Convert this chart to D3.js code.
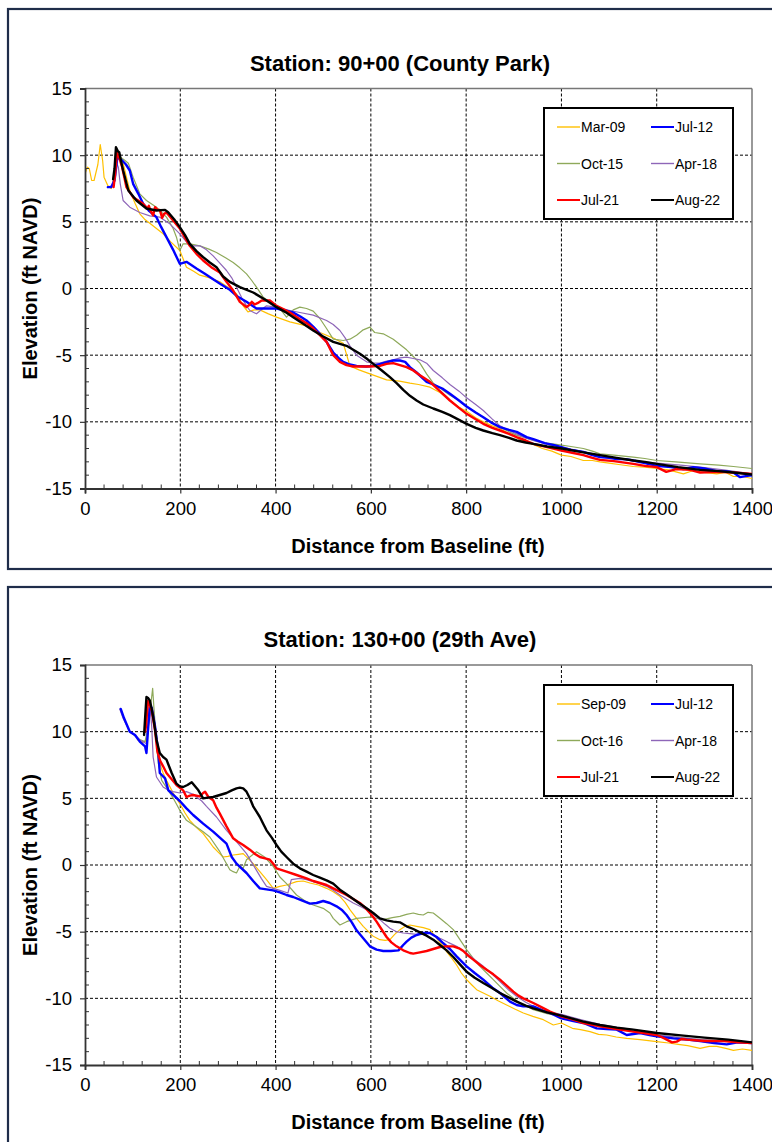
<!DOCTYPE html>
<html>
<head>
<meta charset="utf-8">
<script src="https://cdn.jsdelivr.net/npm/d3@7"></script>
<style>
  html, body { margin: 0; padding: 0; background: #fff; }
  svg text { font-family: "Liberation Sans", Arial, sans-serif; }
</style>
</head>
<body>
<svg id="chart" width="772" height="1142"></svg>
<script>
// ---------- axis ticks ----------
const xTicks = [0, 200, 400, 600, 800, 1000, 1200, 1400];
const yTicks = [-15, -10, -5, 0, 5, 10, 15];

// ---------- Station 90+00 (County Park) ----------
const cpTitle = "Station: 90+00 (County Park)";
const cpLabels = ["Mar-09", "Jul-12", "Oct-15", "Apr-18", "Jul-21", "Aug-22"];
const cpMar09 = [[0,8.6],[5,9.1],[9,9.0],[14,8.1],[19,8.1],[27,9.3],[32,10.8],[37,9.6],[40,8.35],[48,7.7],[55,7.5],[59,8.0],[64,9.4],[68,9.9],[74,9.9],[80,9.4],[88,8.2],[94,7.35],[105,6.4],[115,5.6],[125,5.2],[136,4.9],[150,4.5],[164,4.1],[180,3.5],[199,2.85],[213,1.6],[228,1.3],[241,1.0],[262,0.8],[283,0.5],[300,0.1],[318,-0.4],[332,-1.3],[342,-1.75],[355,-1.6],[367,-1.6],[385,-1.9],[402,-2.15],[430,-2.5],[465,-2.8],[493,-3.3],[520,-3.7],[542,-4.1],[556,-5.8],[575,-6.1],[598,-6.4],[633,-6.85],[660,-6.95],[682,-7.1],[700,-7.2],[724,-7.4],[745,-7.8],[766,-8.4],[785,-8.9],[801,-9.2],[820,-9.7],[836,-10.0],[855,-10.3],[871,-10.5],[890,-10.9],[906,-11.2],[925,-11.5],[941,-11.7],[960,-12.0],[980,-12.2],[1000,-12.5],[1020,-12.6],[1046,-12.9],[1065,-12.9],[1081,-13.0],[1100,-13.1],[1120,-13.2],[1151,-13.35],[1175,-13.4],[1200,-13.5],[1225,-13.6],[1256,-13.9],[1277,-13.65],[1300,-13.8],[1326,-13.9],[1345,-13.8],[1361,-14.1],[1380,-14.1],[1400,-14.25]];
const cpJul12 = [[48,7.6],[55,7.6],[62,8.1],[68,9.85],[78,9.6],[86,9.3],[94,8.85],[101,7.85],[112,7.1],[122,6.35],[135,5.8],[150,5.35],[160,4.6],[171,3.85],[185,2.9],[199,1.85],[213,2.0],[234,1.5],[250,1.15],[269,0.7],[286,0.3],[304,-0.1],[320,-0.6],[339,-1.0],[360,-1.5],[380,-1.5],[402,-1.5],[420,-1.65],[437,-1.8],[452,-2.1],[465,-2.4],[480,-2.9],[493,-3.4],[507,-4.0],[521,-4.8],[532,-5.2],[542,-5.5],[556,-5.7],[570,-5.8],[590,-5.85],[605,-5.8],[626,-5.6],[647,-5.4],[661,-5.4],[672,-5.5],[682,-5.9],[696,-6.3],[717,-7.0],[731,-7.2],[750,-7.5],[766,-7.9],[785,-8.4],[801,-8.85],[820,-9.3],[836,-9.65],[855,-10.1],[871,-10.4],[890,-10.6],[906,-10.75],[927,-11.15],[941,-11.3],[965,-11.6],[985,-11.75],[1000,-11.9],[1020,-12.1],[1046,-12.25],[1065,-12.5],[1081,-12.65],[1100,-12.7],[1116,-12.8],[1135,-12.8],[1151,-12.9],[1175,-13.1],[1200,-13.3],[1230,-13.4],[1256,-13.55],[1277,-13.4],[1300,-13.5],[1326,-13.7],[1345,-13.7],[1361,-13.8],[1375,-14.15],[1390,-14.05],[1400,-14.0]];
const cpOct15 = [[64,9.6],[68,10.0],[76,9.8],[84,9.6],[91,9.4],[101,8.35],[115,7.1],[129,6.6],[150,6.1],[171,5.35],[185,4.5],[192,3.85],[199,2.85],[206,3.35],[220,3.35],[241,3.2],[260,2.95],[276,2.7],[295,2.3],[311,1.95],[325,1.55],[339,1.1],[350,0.6],[360,0.1],[374,-0.65],[388,-1.0],[402,-1.3],[413,-1.7],[423,-2.15],[437,-1.6],[451,-1.4],[465,-1.5],[479,-1.7],[493,-2.25],[507,-3.0],[521,-3.8],[542,-3.9],[556,-3.8],[570,-3.5],[584,-3.1],[598,-2.9],[608,-3.3],[626,-3.4],[647,-3.8],[661,-4.2],[675,-4.6],[689,-5.1],[703,-5.6],[717,-6.4],[731,-7.1],[750,-7.6],[766,-8.0],[785,-8.4],[801,-8.85],[820,-9.3],[836,-9.65],[855,-10.05],[871,-10.4],[890,-10.75],[906,-11.0],[925,-11.2],[941,-11.4],[970,-11.6],[1000,-11.75],[1020,-11.85],[1046,-12.0],[1065,-12.2],[1081,-12.4],[1110,-12.5],[1151,-12.65],[1175,-12.75],[1200,-12.9],[1240,-13.0],[1291,-13.15],[1330,-13.25],[1361,-13.35],[1400,-13.5]];
const cpApr18 = [[48,7.6],[56,7.7],[62,8.5],[64,9.6],[70,9.1],[74,7.85],[80,6.6],[94,6.1],[115,5.7],[136,5.45],[157,5.35],[178,4.85],[199,4.1],[220,3.2],[241,3.2],[255,2.9],[269,2.45],[283,1.9],[297,1.35],[308,0.8],[318,0.1],[329,-0.7],[339,-1.3],[346,-1.65],[360,-1.9],[370,-1.6],[381,-1.3],[402,-1.4],[430,-1.65],[451,-1.8],[479,-2.0],[507,-2.4],[521,-2.7],[535,-3.15],[546,-3.7],[556,-4.3],[570,-5.0],[591,-5.5],[605,-5.6],[619,-5.6],[633,-5.45],[647,-5.35],[661,-5.2],[675,-5.15],[689,-5.25],[703,-5.35],[717,-5.6],[731,-6.15],[750,-6.7],[766,-7.2],[785,-7.7],[801,-8.2],[820,-8.7],[836,-9.15],[855,-9.8],[871,-10.3],[890,-10.65],[906,-10.9],[925,-11.2],[941,-11.4],[970,-11.7],[1000,-11.9],[1040,-12.2],[1081,-12.5],[1120,-12.8],[1160,-12.95],[1200,-13.1],[1250,-13.25],[1291,-13.4],[1340,-13.6],[1400,-13.9]];
const cpJul21 = [[60,7.6],[63,8.5],[67,10.2],[72,9.8],[78,9.1],[87,7.6],[101,6.85],[122,6.35],[131,6.0],[134,6.2],[138,5.8],[143,5.5],[147,6.1],[152,5.9],[157,5.9],[162,5.3],[166,5.6],[171,5.7],[178,5.4],[185,5.1],[199,4.5],[210,3.8],[220,3.2],[234,2.6],[248,2.1],[265,1.6],[283,1.2],[297,0.5],[311,-0.15],[325,-1.0],[339,-1.4],[346,-1.2],[350,-1.0],[356,-1.2],[362,-1.1],[371,-0.9],[388,-0.9],[402,-1.3],[416,-1.55],[430,-1.8],[451,-2.3],[465,-2.6],[479,-3.0],[493,-3.5],[507,-4.0],[514,-4.5],[521,-5.0],[535,-5.5],[549,-5.75],[563,-5.85],[580,-5.85],[598,-5.85],[619,-5.8],[633,-5.65],[647,-5.6],[661,-5.75],[675,-5.9],[689,-6.15],[703,-6.5],[724,-7.0],[745,-7.7],[766,-8.4],[785,-8.95],[801,-9.4],[820,-9.8],[836,-10.15],[855,-10.45],[871,-10.65],[890,-10.9],[906,-11.15],[925,-11.4],[941,-11.65],[970,-11.9],[1000,-12.15],[1020,-12.3],[1046,-12.5],[1065,-12.7],[1081,-12.85],[1110,-12.95],[1151,-13.15],[1175,-13.3],[1200,-13.4],[1220,-13.75],[1241,-13.55],[1270,-13.6],[1291,-13.8],[1330,-13.75],[1361,-13.8],[1400,-13.9]];
const cpAug22 = [[59,8.2],[62,9.0],[65,10.6],[69,10.3],[72,10.2],[76,9.5],[80,8.85],[91,7.35],[108,6.6],[129,6.0],[150,5.85],[168,5.9],[175,5.7],[187,5.2],[199,4.6],[210,4.0],[220,3.35],[234,2.8],[248,2.35],[262,1.95],[276,1.6],[290,0.9],[304,0.5],[325,0.1],[353,-0.3],[381,-0.9],[402,-1.4],[420,-1.75],[437,-2.15],[458,-2.65],[479,-3.15],[500,-3.6],[521,-4.0],[535,-4.15],[549,-4.3],[563,-4.6],[577,-4.9],[591,-5.25],[605,-5.65],[623,-6.15],[640,-6.65],[654,-7.1],[668,-7.6],[682,-8.05],[696,-8.4],[710,-8.7],[731,-9.0],[750,-9.25],[766,-9.5],[785,-9.85],[801,-10.15],[820,-10.45],[836,-10.65],[855,-10.85],[871,-11.0],[890,-11.2],[906,-11.4],[925,-11.55],[941,-11.65],[970,-11.85],[1001,-12.0],[1040,-12.25],[1081,-12.5],[1116,-12.7],[1151,-12.9],[1175,-13.0],[1200,-13.15],[1245,-13.4],[1291,-13.6],[1330,-13.7],[1361,-13.8],[1400,-13.95]];

// ---------- Station 130+00 (29th Ave) ----------
const taTitle = "Station: 130+00 (29th Ave)";
const taLabels = ["Sep-09", "Jul-12", "Oct-16", "Apr-18", "Jul-21", "Aug-22"];
const taSep09 = [[110,9.4],[120,9.2],[128,9.3],[134,10.8],[138,11.9],[144,11.0],[152,9.0],[157,7.6],[164,6.9],[171,6.35],[185,5.4],[199,4.6],[210,3.9],[220,3.35],[234,2.8],[248,2.35],[262,1.7],[269,1.35],[280,0.95],[290,0.6],[300,0.65],[311,0.75],[322,0.8],[332,0.85],[342,0.5],[353,0.1],[367,-0.5],[381,-1.1],[395,-1.75],[409,-1.6],[423,-1.5],[444,-1.25],[458,-1.2],[472,-1.35],[490,-1.5],[507,-1.75],[521,-2.0],[535,-2.35],[546,-2.8],[556,-3.35],[570,-4.0],[584,-4.6],[595,-5.0],[605,-5.35],[619,-5.6],[630,-5.65],[640,-5.6],[650,-5.2],[661,-4.85],[672,-4.6],[682,-4.5],[696,-4.6],[710,-4.7],[724,-4.85],[738,-5.5],[750,-6.0],[759,-6.5],[770,-7.0],[780,-7.5],[790,-8.1],[801,-8.6],[812,-9.0],[822,-9.35],[836,-9.6],[850,-9.85],[868,-10.2],[885,-10.5],[902,-10.8],[920,-11.1],[940,-11.35],[962,-11.6],[983,-12.0],[1000,-11.85],[1023,-12.25],[1040,-12.35],[1060,-12.5],[1078,-12.7],[1095,-12.75],[1115,-12.9],[1137,-13.0],[1165,-13.1],[1200,-13.25],[1225,-13.35],[1245,-13.45],[1265,-13.55],[1291,-13.75],[1310,-13.6],[1326,-13.6],[1345,-13.75],[1361,-13.9],[1380,-13.8],[1400,-13.9]];
const taJul12 = [[75,11.7],[82,11.0],[94,10.0],[105,9.75],[115,9.25],[126,8.9],[129,8.4],[132,10.0],[136,11.9],[140,11.8],[147,10.4],[154,8.4],[157,6.9],[168,6.5],[175,5.6],[187,5.2],[199,4.8],[213,4.25],[227,3.75],[248,3.1],[269,2.5],[283,2.05],[297,1.6],[308,0.6],[318,0.1],[339,-0.6],[353,-1.2],[367,-1.75],[395,-1.9],[409,-2.05],[423,-2.25],[437,-2.4],[451,-2.6],[472,-2.9],[486,-2.85],[500,-2.7],[514,-2.85],[528,-3.1],[540,-3.4],[549,-3.75],[560,-4.3],[570,-4.9],[584,-5.5],[598,-6.1],[612,-6.35],[626,-6.45],[642,-6.45],[658,-6.4],[668,-6.0],[675,-5.75],[685,-5.45],[696,-5.25],[710,-5.1],[724,-5.1],[738,-5.4],[750,-5.8],[766,-6.3],[780,-6.85],[801,-7.6],[818,-8.1],[836,-8.6],[855,-9.2],[871,-9.6],[892,-10.25],[906,-10.5],[920,-10.6],[941,-10.6],[960,-10.9],[976,-11.1],[1000,-11.5],[1025,-11.7],[1046,-11.85],[1074,-12.25],[1095,-12.3],[1116,-12.35],[1137,-12.75],[1165,-12.6],[1185,-12.75],[1200,-12.85],[1235,-13.0],[1265,-13.1],[1291,-13.2],[1320,-13.35],[1347,-13.45],[1370,-13.3],[1400,-13.35]];
const taOct16 = [[94,10.0],[105,9.7],[115,9.4],[126,9.25],[133,10.4],[138,12.0],[142,13.25],[145,11.6],[150,9.1],[154,7.6],[161,6.35],[175,5.6],[187,4.9],[199,4.1],[213,3.35],[234,2.85],[248,2.5],[262,2.1],[283,1.0],[297,0.1],[304,-0.35],[311,-0.5],[318,-0.6],[325,-0.1],[332,-0.25],[339,0.4],[346,0.6],[360,1.0],[377,0.6],[395,-0.1],[409,-0.9],[423,-1.4],[444,-2.25],[462,-2.7],[479,-3.0],[500,-3.25],[514,-3.6],[521,-4.0],[535,-4.5],[549,-4.25],[570,-4.0],[598,-3.9],[626,-4.1],[645,-3.95],[661,-3.85],[675,-3.7],[689,-3.6],[700,-3.7],[710,-3.75],[720,-3.55],[731,-3.6],[745,-4.0],[759,-4.4],[773,-4.85],[787,-5.6],[801,-6.35],[815,-7.0],[829,-7.6],[843,-8.1],[857,-8.6],[871,-9.1],[885,-9.6],[899,-10.0],[913,-10.35],[927,-10.6],[941,-10.85],[970,-11.15],[1000,-11.35],[1040,-11.7],[1081,-12.1],[1116,-12.3],[1151,-12.5],[1200,-12.75],[1250,-12.95],[1291,-13.1],[1340,-13.2],[1400,-13.35]];
const taApr18 = [[73,11.7],[80,11.0],[94,10.0],[105,9.75],[115,9.4],[129,9.1],[133,11.1],[136,12.2],[140,10.4],[143,8.1],[150,6.6],[164,5.85],[175,5.6],[185,5.5],[199,5.4],[213,5.5],[227,5.3],[234,5.1],[245,4.8],[255,4.4],[276,3.6],[297,2.6],[318,1.75],[339,0.85],[350,0.2],[360,-0.4],[370,-1.0],[381,-1.6],[395,-1.75],[409,-1.9],[426,-2.1],[433,-1.1],[451,-1.0],[465,-1.1],[479,-1.25],[493,-1.4],[507,-1.6],[521,-1.9],[535,-2.25],[549,-2.55],[563,-2.85],[577,-3.1],[591,-3.35],[605,-3.7],[619,-4.1],[630,-4.45],[640,-4.75],[654,-5.0],[668,-5.1],[682,-5.15],[696,-5.2],[710,-5.15],[724,-5.1],[745,-5.5],[762,-5.8],[780,-6.1],[801,-6.6],[818,-7.1],[836,-7.6],[855,-8.2],[871,-8.75],[890,-9.4],[906,-9.85],[925,-10.3],[941,-10.6],[970,-11.0],[1000,-11.2],[1040,-11.6],[1081,-11.95],[1120,-12.2],[1151,-12.35],[1200,-12.75],[1250,-12.95],[1291,-13.1],[1340,-13.2],[1400,-13.3]];
const taJul21 = [[126,10.0],[128,10.4],[132,12.3],[136,12.0],[140,11.6],[147,10.1],[152,8.5],[158,7.8],[164,7.4],[171,6.9],[178,6.6],[192,6.0],[206,5.6],[213,5.1],[220,5.2],[227,5.25],[241,5.15],[248,5.4],[252,5.5],[259,5.1],[269,4.85],[276,4.3],[283,3.85],[297,2.9],[311,2.0],[321,1.75],[332,1.5],[346,1.15],[356,0.85],[367,0.6],[378,0.5],[388,0.4],[395,0.1],[402,-0.25],[423,-0.5],[444,-0.75],[465,-1.0],[479,-1.2],[493,-1.35],[507,-1.5],[521,-1.75],[535,-2.0],[549,-2.25],[563,-2.55],[577,-2.85],[588,-3.2],[598,-3.6],[605,-3.9],[612,-4.25],[622,-4.8],[633,-5.4],[643,-5.8],[654,-6.1],[668,-6.4],[682,-6.6],[689,-6.65],[703,-6.55],[717,-6.45],[731,-6.3],[745,-6.15],[759,-6.1],[773,-6.1],[785,-6.25],[794,-6.45],[804,-6.8],[815,-7.1],[829,-7.5],[843,-7.85],[857,-8.2],[871,-8.6],[885,-9.05],[899,-9.5],[910,-9.8],[920,-10.0],[941,-10.35],[960,-10.7],[976,-11.0],[1000,-11.35],[1025,-11.6],[1046,-11.85],[1081,-12.1],[1116,-12.3],[1151,-12.5],[1180,-12.65],[1200,-12.75],[1210,-12.9],[1221,-13.1],[1232,-13.3],[1242,-13.25],[1252,-13.05],[1263,-13.1],[1300,-13.2],[1340,-13.2],[1370,-13.3],[1400,-13.35]];
const taAug22 = [[124,9.75],[127,11.5],[129,12.6],[133,12.5],[136,12.35],[140,11.7],[143,11.1],[147,10.2],[150,9.4],[157,8.4],[164,8.1],[171,7.9],[182,6.9],[192,6.1],[199,5.9],[206,5.85],[215,6.0],[224,6.2],[231,5.9],[238,5.6],[248,5.0],[258,5.05],[269,5.1],[283,5.25],[297,5.4],[308,5.6],[318,5.75],[325,5.8],[332,5.75],[339,5.5],[346,5.0],[353,4.4],[360,4.0],[367,3.6],[374,3.1],[381,2.6],[392,2.05],[402,1.5],[412,1.0],[423,0.6],[437,0.1],[451,-0.25],[465,-0.5],[479,-0.75],[493,-0.95],[507,-1.15],[521,-1.4],[535,-1.85],[549,-2.2],[563,-2.55],[577,-2.9],[591,-3.25],[605,-3.6],[619,-4.0],[633,-4.15],[647,-4.25],[661,-4.3],[675,-4.6],[689,-4.8],[703,-5.05],[717,-5.3],[731,-5.6],[745,-6.0],[759,-6.4],[773,-6.9],[787,-7.45],[801,-8.0],[818,-8.45],[836,-8.85],[855,-9.25],[871,-9.6],[890,-9.95],[906,-10.25],[925,-10.55],[941,-10.75],[970,-11.05],[1000,-11.3],[1046,-11.75],[1081,-12.0],[1116,-12.2],[1151,-12.35],[1200,-12.6],[1256,-12.8],[1300,-12.95],[1350,-13.1],[1400,-13.3]];

// ---------- styles (per legend slot) ----------
const seriesColors = ["#FFC000", "#0000FF", "#8EA95A", "#8E66B8", "#FF0000", "#000000"];
const seriesWidths = [1.2, 2.4, 1.2, 1.2, 2.4, 2.4];
const drawOrder = [0, 2, 3, 1, 4, 5];

const svg = d3.select("#chart");
const FONT = '"Liberation Sans", Arial, sans-serif';

function drawPanel(cfg) {
  // panel border
  svg.append("rect")
    .attr("x", 8).attr("y", cfg.panelTop)
    .attr("width", 820).attr("height", cfg.panelHeight)
    .attr("fill", "#fff").attr("stroke", "#1F2D4A").attr("stroke-width", 2.2);

  const left = 85, right = 752, top = cfg.plotTop, bottom = cfg.plotTop + 400;
  const x = d3.scaleLinear().domain([0, 1400]).range([left, right]);
  const y = d3.scaleLinear().domain([-15, 15]).range([bottom, top]);
  const g = svg.append("g");

  // title
  g.append("text").attr("x", 400).attr("y", top - 18)
    .attr("text-anchor", "middle").attr("font-size", 22).attr("font-weight", "bold")
    .attr("fill", "#000").text(cfg.title);

  // gridlines
  const grid = g.append("g").attr("stroke", "#000").attr("stroke-width", 1)
    .attr("stroke-dasharray", "3,2");
  xTicks.filter(t => t > 0 && t < 1400).forEach(t => {
    grid.append("line").attr("x1", x(t)).attr("x2", x(t)).attr("y1", top).attr("y2", bottom);
  });
  yTicks.filter(t => t > -15 && t < 15).forEach(t => {
    grid.append("line").attr("x1", left).attr("x2", right).attr("y1", y(t)).attr("y2", y(t));
  });

  // frame top/right
  g.append("line").attr("x1", left).attr("x2", right).attr("y1", top).attr("y2", top)
    .attr("stroke", "#777").attr("stroke-width", 1.5);
  g.append("line").attr("x1", right).attr("x2", right).attr("y1", top).attr("y2", bottom)
    .attr("stroke", "#777").attr("stroke-width", 1.5);

  // series
  const clipId = "clip" + cfg.id;
  svg.append("clipPath").attr("id", clipId).append("rect")
    .attr("x", left).attr("y", top).attr("width", right - left).attr("height", bottom - top);
  const line = d3.line().x(d => x(d[0])).y(d => y(d[1]));
  const lines = g.append("g").attr("clip-path", `url(#${clipId})`);
  drawOrder.forEach(i => {
    lines.append("path").datum(cfg.series[i])
      .attr("fill", "none").attr("stroke", seriesColors[i])
      .attr("stroke-width", seriesWidths[i])
      .attr("stroke-linejoin", "round").attr("stroke-linecap", "round")
      .attr("d", line);
  });

  // axes
  const fmt = d => String(d);
  const xAxis = d3.axisBottom(x).tickValues(xTicks).tickFormat(fmt).tickSize(5).tickPadding(8);
  const yAxis = d3.axisLeft(y).tickValues(yTicks).tickFormat(fmt).tickSize(5).tickPadding(8);
  const xa = g.append("g").attr("transform", `translate(0,${bottom})`).call(xAxis);
  const ya = g.append("g").attr("transform", `translate(${left},0)`).call(yAxis);
  [xa, ya].forEach(a => {
    a.select(".domain").attr("stroke", "#333").attr("stroke-width", 1.8);
    a.selectAll(".tick line").attr("stroke", "#333").attr("stroke-width", 1.2);
    a.selectAll(".tick text").attr("font-family", FONT).attr("font-size", 18.5).attr("fill", "#000");
  });
  // minor ticks (inside)
  const xMinor = d3.range(40, 1400, 40).filter(v => v % 200 !== 0);
  const yMinor = d3.range(-14, 15, 1).filter(v => v % 5 !== 0);
  xMinor.forEach(v => g.append("line").attr("x1", x(v)).attr("x2", x(v))
    .attr("y1", bottom).attr("y2", bottom - 4).attr("stroke", "#333").attr("stroke-width", 1));
  yMinor.forEach(v => g.append("line").attr("x1", left).attr("x2", left + 4)
    .attr("y1", y(v)).attr("y2", y(v)).attr("stroke", "#333").attr("stroke-width", 1));

  // axis titles
  g.append("text").attr("x", 418).attr("y", bottom + 64)
    .attr("text-anchor", "middle").attr("font-size", 20).attr("font-weight", "bold")
    .text("Distance from Baseline (ft)");
  g.append("text").attr("transform", `translate(37,${(top + bottom) / 2}) rotate(-90)`)
    .attr("text-anchor", "middle").attr("font-size", 20).attr("font-weight", "bold")
    .text("Elevation (ft NAVD)");

  // legend
  const lx = 544, ly = cfg.legendTop, lw = 189, lh = 111;
  const lg = g.append("g");
  lg.append("rect").attr("x", lx).attr("y", ly).attr("width", lw).attr("height", lh)
    .attr("fill", "#fff").attr("stroke", "#000").attr("stroke-width", 2);
  const rowY = [19, 55.5, 92];
  const colX = [13, 107];
  cfg.labels.forEach((lab, i) => {
    const cx = lx + colX[i % 2], cy = ly + rowY[Math.floor(i / 2)];
    lg.append("line").attr("x1", cx).attr("x2", cx + 23).attr("y1", cy).attr("y2", cy)
      .attr("stroke", seriesColors[i]).attr("stroke-width", seriesWidths[i] > 2 ? 2 : 1.4);
    lg.append("text").attr("x", cx + 24).attr("y", cy + 5).attr("font-size", 14)
      .attr("fill", "#000").text(lab);
  });
}

drawPanel({ id: 1, panelTop: 9, panelHeight: 560, plotTop: 88.5, legendTop: 108,
  title: cpTitle, labels: cpLabels,
  series: [cpMar09, cpJul12, cpOct15, cpApr18, cpJul21, cpAug22] });
drawPanel({ id: 2, panelTop: 587, panelHeight: 600, plotTop: 665, legendTop: 685,
  title: taTitle, labels: taLabels,
  series: [taSep09, taJul12, taOct16, taApr18, taJul21, taAug22] });
</script>
</body>
</html>
